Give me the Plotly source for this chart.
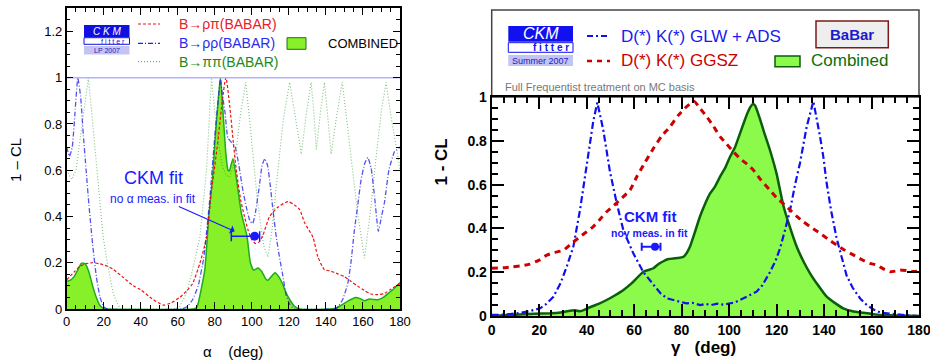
import plotly.graph_objects as go

# ---------------- DATA: left panel (alpha) ----------------
alpha_comb_x = [0, 2, 4, 6, 8, 10, 12, 14, 16, 18, 20, 22,
                68, 70, 71, 73, 74.6, 76.9, 78.7, 80.3, 81.7, 83, 84.1, 85.9, 87.1, 87.8, 89.8, 92.2, 94.3, 97.4, 99.2,
                101, 103.3, 105.5, 107.5, 108.7, 110.5, 112.5, 114.5, 116.5, 118.5, 120.5, 123, 126,
                142, 145, 148, 152, 156, 158.5, 160.8, 163.5, 166, 168, 171, 174, 177, 180]
alpha_comb_y = [0.12, 0.125, 0.14, 0.17, 0.198, 0.195, 0.16, 0.1, 0.05, 0.015, 0.002, 0,
                0, 0.005, 0.025, 0.1, 0.17, 0.416, 0.56, 0.75, 0.89, 1.0, 0.89, 0.677, 0.6, 0.597, 0.65, 0.532, 0.416, 0.314, 0.2,
                0.168, 0.177, 0.16, 0.13, 0.124, 0.14, 0.157, 0.14, 0.11, 0.07, 0.04, 0.012, 0,
                0, 0.002, 0.015, 0.035, 0.05, 0.045, 0.036, 0.043, 0.041, 0.04, 0.05, 0.07, 0.09, 0.115]

alpha_rhopi_x = [0, 4, 7, 10, 14, 18, 22, 25, 30, 36, 40, 46, 52, 56, 61, 65, 68, 72, 75.5, 78, 80, 82, 84, 86, 88, 90,
                 91.6, 94, 96, 98, 100, 102, 104, 106, 109.6, 114, 119.5, 123, 125.8, 128.5, 133, 135.6, 139.2, 142,
                 146.4, 150, 153.6, 157, 160.8, 164.4, 168, 171.6, 175, 180]
alpha_rhopi_y = [0.126, 0.16, 0.184, 0.195, 0.2, 0.195, 0.185, 0.172, 0.14, 0.1, 0.083, 0.045, 0.017, 0.025, 0.05, 0.08,
                 0.11, 0.2, 0.31, 0.5, 0.62, 0.75, 0.9, 1.0, 0.88, 0.72,
                 0.6, 0.47, 0.4, 0.34, 0.3, 0.283, 0.29, 0.32, 0.4, 0.44, 0.464, 0.45, 0.43, 0.373, 0.31, 0.227, 0.17, 0.165,
                 0.152, 0.14, 0.119, 0.1, 0.08, 0.065, 0.062, 0.067, 0.085, 0.11]

alpha_rhorho_x = [0, 1.5, 3, 4.5, 6, 7.5, 9, 10.5, 12, 14, 16, 18, 20, 22,
                  62, 65, 68, 71, 74, 77, 80, 82, 83, 84, 85.5, 87, 89, 91, 93, 95, 97, 99, 100.5, 102, 104, 105.5, 107,
                  108.5, 110, 111.5, 113.2, 115, 116.8, 118.5, 120.5, 123,
                  143, 146, 149, 151.8, 153.5, 155.4, 157.2, 159, 161, 162.6, 164.4, 166.2, 168.3, 170, 171.6, 174, 177, 180]
alpha_rhorho_y = [0.7, 0.66, 0.7, 0.85, 1.0, 0.92, 0.75, 0.6, 0.45, 0.28, 0.14, 0.05, 0.01, 0,
                  0, 0.01, 0.04, 0.1, 0.22, 0.45, 0.75, 0.92, 1.0, 0.93, 0.85, 0.74, 0.72, 0.7, 0.62, 0.52, 0.44, 0.38, 0.37,
                  0.42, 0.53, 0.62, 0.65, 0.62, 0.53, 0.42, 0.31, 0.22, 0.14, 0.06, 0.02, 0,
                  0, 0.005, 0.04, 0.11, 0.2, 0.343, 0.45, 0.56, 0.63, 0.655, 0.61, 0.49, 0.336, 0.4, 0.46, 0.6, 0.68, 0.7]

alpha_pipi_x = [0, 2.7, 5, 8, 10, 11.7, 13.5, 16.2, 18, 19.7, 21.5, 23.3, 25, 27, 29,
                58, 61, 64.7, 68, 71.9, 75.5, 78.2, 80, 82, 84, 86, 88, 90, 92, 94, 96.7, 99, 101, 103, 105, 106.5,
                108.7, 111, 113, 115, 117, 120.4, 123.5, 126.7, 129.5, 132, 133.5, 134.8, 137, 139.2, 141, 142.8,
                145.5, 148.8, 151.5, 154, 157, 160.8, 164, 167, 170, 172.5, 175, 178.8, 180]
alpha_pipi_y = [0.6, 0.56, 0.6, 0.78, 0.92, 1.0, 0.85, 0.6, 0.45, 0.31, 0.22, 0.14, 0.07, 0.03, 0,
                0, 0.01, 0.068, 0.17, 0.31, 0.6, 1.0, 0.85, 0.72, 0.62, 0.58, 0.57, 0.62, 0.72, 0.85, 0.98, 0.8, 0.62,
                0.47, 0.35, 0.27, 0.225, 0.35, 0.52, 0.68, 0.82, 0.98, 0.82, 0.67, 0.85, 0.98, 0.85, 0.69, 0.85, 0.98,
                0.83, 0.67, 0.82, 0.98, 0.8, 0.62, 0.42, 0.22, 0.42, 0.65, 0.86, 0.98, 0.84, 0.66, 0.6]

alpha_fit = [101.5]
alpha_fit_cl = [0.315]
alpha_fit_err_plus = [2.7]
alpha_fit_err_minus = [12.6]

# ---------------- DATA: right panel (gamma) ----------------
gamma_glw_x = [0, 5, 10.5, 15, 20.4, 23, 26, 29, 31.6, 34.4, 37.2, 40, 42.8, 44.5, 47, 49.8, 52.7, 55.5, 59.7, 63.9,
               68.1, 71, 73.7, 76.5, 79.3, 82, 84.5, 87.8, 90, 92.5, 95, 97.6, 100, 102.5, 104.6, 107, 109, 111.6, 114,
               117.2, 119.5, 121.5, 123.5, 125.7, 127.8, 129.9, 132.7, 135.5, 138.3, 139.7, 141.1, 143, 145.3, 147.5,
               149.5, 152, 155.2, 158, 160.8, 164, 167.8, 172, 176, 180]
gamma_glw_y = [0.005, 0.006, 0.012, 0.02, 0.035, 0.055, 0.088, 0.15, 0.225, 0.317, 0.484, 0.68, 0.89, 0.975, 0.85, 0.66,
               0.514, 0.39, 0.285, 0.2, 0.142, 0.105, 0.081, 0.072, 0.065, 0.058, 0.06, 0.05, 0.055, 0.05, 0.056, 0.052,
               0.058, 0.062, 0.073, 0.085, 0.095, 0.111, 0.14, 0.2, 0.25, 0.31, 0.39, 0.484, 0.6, 0.7, 0.865, 0.98, 0.82,
               0.727, 0.606, 0.48, 0.355, 0.26, 0.185, 0.13, 0.08, 0.05, 0.03, 0.015, 0.01, 0.005, 0.002, 0]

gamma_ggsz_x = [0, 5, 9, 13, 16, 20, 23.2, 26.5, 30.2, 33.5, 37.2, 40, 42.8, 45.5, 48.4, 51, 54, 58.3, 61.1, 64.5, 68.1,
                71.5, 75.1, 78.5, 82.1, 85.3, 88, 90.6, 93.5, 96.2, 99, 101.8, 105, 108, 110.2, 113.5, 117.2, 120, 123.5,
                125.7, 128.5, 131.3, 134.8, 138.3, 141.8, 145.3, 148.8, 152.3, 155.8, 159.3, 162.2, 165, 167.8, 170,
                172, 175, 177.5, 180]
gamma_ggsz_y = [0.218, 0.22, 0.225, 0.23, 0.237, 0.255, 0.278, 0.29, 0.3, 0.33, 0.362, 0.385, 0.408, 0.44, 0.476, 0.5,
                0.53, 0.575, 0.636, 0.7, 0.765, 0.82, 0.864, 0.915, 0.956, 0.98, 0.945, 0.91, 0.865, 0.819, 0.785, 0.75,
                0.715, 0.69, 0.667, 0.62, 0.575, 0.54, 0.507, 0.484, 0.455, 0.43, 0.403, 0.378, 0.35, 0.324, 0.3, 0.279,
                0.258, 0.24, 0.233, 0.215, 0.202, 0.205, 0.21, 0.207, 0.203, 0.205]

gamma_comb_x = [0, 5, 10, 13.3, 18, 24.6, 29, 33, 35, 37.2, 39, 41.4, 45, 48.4, 52, 55.5, 59, 63.9, 66, 68.1, 70, 72.3,
                74.5, 76.5, 78.5, 80.7, 82, 83.5, 85.5, 87.7, 90, 92, 94, 96.2, 98.5, 100.4, 102.5, 104.6, 107.4, 109,
                110, 111, 113, 115, 117.2, 120, 122.8, 125.5, 128.5, 131.3, 134.1, 137.5, 141.1, 144.5, 148.1, 152,
                156.5, 160, 163.6, 168, 172, 176, 180]
gamma_comb_y = [0, 0.003, 0.006, 0.008, 0.01, 0.012, 0.016, 0.024, 0.026, 0.022, 0.028, 0.04, 0.055, 0.073, 0.095,
                0.119, 0.15, 0.202, 0.21, 0.218, 0.235, 0.25, 0.26, 0.263, 0.265, 0.27, 0.285, 0.316, 0.38, 0.453,
                0.515, 0.56, 0.59, 0.636, 0.68, 0.727, 0.77, 0.834, 0.918, 0.955, 0.968, 0.96, 0.9, 0.83, 0.758, 0.65,
                0.507, 0.41, 0.316, 0.25, 0.195, 0.14, 0.088, 0.06, 0.035, 0.022, 0.015, 0.01, 0.005, 0.003, 0.002,
                0.001, 0]

gamma_fit = [68.8]
gamma_fit_cl = [0.316]
gamma_fit_err_plus = [2.3]
gamma_fit_err_minus = [5.6]

alpha_ticks = [0, 20, 40, 60, 80, 100, 120, 140, 160, 180]
ref_level = 1.0

# ---------------- FIGURE ----------------
W, H = 930, 361
FONT = "Liberation Sans, Arial, Helvetica, sans-serif"
BLUE = "#1a1aff"


def px(x):
    return x / W


def py(y):
    return 1 - y / H


fig = go.Figure()

# left panel
fig.add_trace(go.Scatter(x=alpha_comb_x, y=alpha_comb_y, mode="lines", fill="tozeroy",
                         fillcolor="rgb(135,240,40)", line=dict(color="#1faa1f", width=1.5, shape="spline", smoothing=0.5),
                         xaxis="x", yaxis="y", showlegend=False))
fig.add_trace(go.Scatter(x=alpha_pipi_x, y=alpha_pipi_y, mode="lines",
                         line=dict(color="rgba(40,150,40,0.6)", width=1.1, dash="1px,2px"),
                         xaxis="x", yaxis="y", showlegend=False))
fig.add_trace(go.Scatter(x=alpha_rhopi_x, y=alpha_rhopi_y, mode="lines",
                         line=dict(color="#ee1111", width=1.2, dash="3px,2px", shape="spline", smoothing=0.6),
                         xaxis="x", yaxis="y", showlegend=False))
fig.add_trace(go.Scatter(x=alpha_rhorho_x, y=alpha_rhorho_y, mode="lines",
                         line=dict(color="rgba(40,40,235,0.8)", width=1.3, dash="5px,2px,1px,2px", shape="spline", smoothing=0.4),
                         xaxis="x", yaxis="y", showlegend=False))
fig.add_trace(go.Scatter(x=[0, 180], y=[ref_level, ref_level], mode="lines",
                         line=dict(color="#b4b4ff", width=1.5), xaxis="x", yaxis="y", showlegend=False))
fig.add_trace(go.Scatter(x=alpha_fit, y=alpha_fit_cl, mode="markers",
                         marker=dict(color=BLUE, size=9),
                         error_x=dict(type="data", symmetric=False, array=alpha_fit_err_plus,
                                      arrayminus=alpha_fit_err_minus, color=BLUE, thickness=1.5, width=5),
                         xaxis="x", yaxis="y", showlegend=False))

# right panel
fig.add_trace(go.Scatter(x=gamma_comb_x, y=gamma_comb_y, mode="lines", fill="tozeroy",
                         fillcolor="rgb(140,250,75)", line=dict(color="#0b5e0b", width=2.5, shape="spline", smoothing=0.4),
                         xaxis="x2", yaxis="y2", showlegend=False))
fig.add_trace(go.Scatter(x=gamma_glw_x, y=gamma_glw_y, mode="lines",
                         line=dict(color="#1010ee", width=2.2, dash="7px,3px,2px,3px"),
                         xaxis="x2", yaxis="y2", showlegend=False))
fig.add_trace(go.Scatter(x=gamma_ggsz_x, y=gamma_ggsz_y, mode="lines",
                         line=dict(color="#cc0000", width=3, dash="6px,5px", shape="spline", smoothing=0.4),
                         xaxis="x2", yaxis="y2", showlegend=False))
fig.add_trace(go.Scatter(x=gamma_fit, y=gamma_fit_cl, mode="markers",
                         marker=dict(color=BLUE, size=8),
                         error_x=dict(type="data", symmetric=False, array=gamma_fit_err_plus,
                                      arrayminus=gamma_fit_err_minus, color=BLUE, thickness=2, width=4),
                         xaxis="x2", yaxis="y2", showlegend=False))

common_ax = dict(showgrid=False, zeroline=False, showline=True, linecolor="black", mirror="allticks",
                 ticks="inside", tickcolor="black", automargin=False, ticklabeloverflow="allow")

fig.update_layout(
    width=W, height=H, margin=dict(l=0, r=0, t=0, b=0, pad=0), autosize=False,
    paper_bgcolor="white", plot_bgcolor="white",
    font=dict(family=FONT, color="black"),
    xaxis=dict(domain=[px(66.7), px(400)], range=[0, 180], tickvals=alpha_ticks, ticklen=7, tickwidth=1,
               linewidth=1.5, tickfont=dict(size=13), anchor="y",
               minor=dict(dtick=5, ticklen=4, ticks="inside", tickcolor="black"), **common_ax),
    yaxis=dict(domain=[py(309), py(8.3)], range=[0, 1.3], dtick=0.2, ticklen=7, tickwidth=1, linewidth=1.5,
               tickfont=dict(size=13), anchor="x",
               minor=dict(dtick=0.05, ticklen=4, ticks="inside", tickcolor="black"), **common_ax),
    xaxis2=dict(domain=[px(491.7), px(919)], range=[0, 180], tickvals=alpha_ticks, ticklen=12, tickwidth=1.5,
                linewidth=2, tickfont=dict(size=14, weight="bold"), anchor="y2",
                minor=dict(dtick=5, ticklen=6, ticks="inside", tickcolor="black"), **common_ax),
    yaxis2=dict(domain=[py(316), py(97)], range=[0, 1], dtick=0.2, ticklen=12, tickwidth=1.5, linewidth=2,
                tickfont=dict(size=14, weight="bold"), anchor="x2",
                minor=dict(dtick=0.05, ticklen=6, ticks="inside", tickcolor="black"), **common_ax),
)

shapes = []
ann = []

# ---- left legend ----
leg_rows = [(24, "#ee1111", "3px,2px", "B\u2192\u03c1\u03c0(BABAR)", "#e8202a"),
            (43.3, "#2020ee", "5px,2px,1px,2px", "B\u2192\u03c1\u03c1(BABAR)", "#2a2aee"),
            (61.7, "rgba(40,150,40,0.7)", "1px,2px", "B\u2192\u03c0\u03c0(BABAR)", "#1a8a1a")]
for yy, lc, dash, txt, tc in leg_rows:
    shapes.append(dict(type="line", xref="paper", yref="paper", x0=px(138), x1=px(160), y0=py(yy), y1=py(yy),
                       line=dict(color=lc, width=1.2, dash=dash)))
    ann.append(dict(xref="paper", yref="paper", x=px(177), y=py(yy), text=txt, showarrow=False,
                    xanchor="left", yanchor="middle", font=dict(size=14, color=tc)))
shapes.append(dict(type="rect", xref="paper", yref="paper", x0=px(287), x1=px(306), y0=py(49.3), y1=py(37.7),
                   fillcolor="rgb(135,240,40)", line=dict(color="#1f6f1f", width=1)))
ann.append(dict(xref="paper", yref="paper", x=px(326), y=py(43.3), text="COMBINED", showarrow=False,
                xanchor="left", yanchor="middle", font=dict(size=13, color="black")))

# left CKMfitter logo
shapes.append(dict(type="rect", xref="paper", yref="paper", x0=px(84), x1=px(129.5), y0=py(37.3), y1=py(25),
                   fillcolor="#1010e0", line=dict(width=0)))
shapes.append(dict(type="rect", xref="paper", yref="paper", x0=px(84), x1=px(129.5), y0=py(44.3), y1=py(37.7),
                   fillcolor="white", line=dict(color="#1010e0", width=1)))
shapes.append(dict(type="rect", xref="paper", yref="paper", x0=px(84), x1=px(129.5), y0=py(54.5), y1=py(46),
                   fillcolor="#c4c4f4", line=dict(width=0)))
ann.append(dict(xref="paper", yref="paper", x=px(106.7), y=py(31.2), text="<i>C K M</i>", showarrow=False,
                font=dict(size=10, color="white"), xanchor="center", yanchor="middle"))
ann.append(dict(xref="paper", yref="paper", x=px(127), y=py(41), text="f i t t e r", showarrow=False,
                font=dict(size=7, color="#1010e0"), xanchor="right", yanchor="middle"))
ann.append(dict(xref="paper", yref="paper", x=px(106.7), y=py(50.3), text="LP 2007", showarrow=False,
                font=dict(size=7, color="#2020c0"), xanchor="center", yanchor="middle"))

# left texts
ann.append(dict(xref="x", yref="y", x=46.7, y=0.568, text="CKM fit", showarrow=False,
                font=dict(size=18, color=BLUE), xanchor="center", yanchor="middle"))
ann.append(dict(xref="x", yref="y", x=46.7, y=0.474, text="no \u03b1 meas. in fit", showarrow=False,
                font=dict(size=12, color=BLUE), xanchor="center", yanchor="middle"))
ann.append(dict(xref="x", yref="y", axref="x", ayref="y", x=90.7, y=0.336, ax=59.5, ay=0.447,
                text="\u00a0", showarrow=True, arrowhead=1, arrowsize=1.2, arrowwidth=1.2,
                arrowcolor=BLUE, standoff=0, startstandoff=0, font=dict(size=2)))

# left axis titles
ann.append(dict(xref="paper", yref="paper", x=px(233), y=py(351), text="\u03b1    (deg)", showarrow=False,
                font=dict(size=15, color="black"), xanchor="center", yanchor="middle"))
ann.append(dict(xref="paper", yref="paper", x=px(15), y=py(160), text="1 \u2013 CL", showarrow=False,
                textangle=-90, font=dict(size=15, color="black"), xanchor="center", yanchor="middle"))

# ---- right legend box ----
shapes.append(dict(type="rect", xref="paper", yref="paper", x0=px(491.7), x1=px(919), y0=py(97), y1=py(10),
                   fillcolor="white", line=dict(color="#444444", width=1.5), layer="below"))
# logo
shapes.append(dict(type="rect", xref="paper", yref="paper", x0=px(508.3), x1=px(573), y0=py(41.7), y1=py(26),
                   fillcolor="#1010f0", line=dict(width=0)))
shapes.append(dict(type="rect", xref="paper", yref="paper", x0=px(508.3), x1=px(573), y0=py(52.3), y1=py(42.7),
                   fillcolor="white", line=dict(color="#1010f0", width=1)))
shapes.append(dict(type="rect", xref="paper", yref="paper", x0=px(508.3), x1=px(573), y0=py(66), y1=py(55),
                   fillcolor="#c4c4f4", line=dict(width=0)))
ann.append(dict(xref="paper", yref="paper", x=px(540.6), y=py(34), text="<i>CKM</i>", showarrow=False,
                font=dict(size=16, color="white"), xanchor="center", yanchor="middle"))
ann.append(dict(xref="paper", yref="paper", x=px(571), y=py(47.5), text="<b>f i t t e r</b>", showarrow=False,
                font=dict(size=10, color="#1010f0"), xanchor="right", yanchor="middle"))
ann.append(dict(xref="paper", yref="paper", x=px(540.6), y=py(60.5), text="Summer 2007", showarrow=False,
                font=dict(size=9, color="#2020c0"), xanchor="center", yanchor="middle"))
# legend samples
shapes.append(dict(type="line", xref="paper", yref="paper", x0=px(587), x1=px(610), y0=py(36), y1=py(36),
                   line=dict(color="#1010ee", width=2, dash="6px,3px,2px,3px")))
shapes.append(dict(type="line", xref="paper", yref="paper", x0=px(587), x1=px(610), y0=py(61), y1=py(61),
                   line=dict(color="#cc0000", width=2.5, dash="5px,5px")))
ann.append(dict(xref="paper", yref="paper", x=px(619), y=py(36), text="D(*) K(*) GLW + ADS", showarrow=False,
                font=dict(size=17, color="#1a1aee"), xanchor="left", yanchor="middle"))
ann.append(dict(xref="paper", yref="paper", x=px(619), y=py(61), text="D(*) K(*) GGSZ", showarrow=False,
                font=dict(size=17, color="#cc0000"), xanchor="left", yanchor="middle"))
shapes.append(dict(type="rect", xref="paper", yref="paper", x0=px(816), x1=px(888.3), y0=py(47.7), y1=py(21),
                   fillcolor="#eeeeee", line=dict(color="#7a1a1a", width=1.5)))
ann.append(dict(xref="paper", yref="paper", x=px(852), y=py(34.5), text="<b>BaBar</b>", showarrow=False,
                font=dict(size=15, color="#1a1acc"), xanchor="center", yanchor="middle"))
shapes.append(dict(type="rect", xref="paper", yref="paper", x0=px(775), x1=px(800), y0=py(66.7), y1=py(56),
                   fillcolor="rgb(140,250,75)", line=dict(color="#0b5e0b", width=1.5)))
ann.append(dict(xref="paper", yref="paper", x=px(809), y=py(61), text="Combined", showarrow=False,
                font=dict(size=17, color="#0b6e0b"), xanchor="left", yanchor="middle"))
ann.append(dict(xref="paper", yref="paper", x=px(503), y=py(87.3), text="Full Frequentist treatment on MC basis",
                showarrow=False, font=dict(size=11, color="#777777"), xanchor="left", yanchor="middle"))

# right texts
ann.append(dict(xref="x2", yref="y2", x=66.7, y=0.453, text="<b>CKM fit</b>", showarrow=False,
                font=dict(size=15, color=BLUE), xanchor="center", yanchor="middle"))
ann.append(dict(xref="x2", yref="y2", x=66.3, y=0.38, text="<b>no\u03b3 meas. in fit</b>", showarrow=False,
                font=dict(size=10.5, color=BLUE), xanchor="center", yanchor="middle"))

# right axis titles
ann.append(dict(xref="paper", yref="paper", x=px(703), y=py(347), text="<b>\u03b3   (deg)</b>", showarrow=False,
                font=dict(size=17, color="black"), xanchor="center", yanchor="middle"))
ann.append(dict(xref="paper", yref="paper", x=px(441), y=py(162.5), text="<b>1 - CL</b>", showarrow=False,
                textangle=-90, font=dict(size=17, color="black"), xanchor="center", yanchor="middle"))

fig.update_layout(shapes=shapes, annotations=ann)
fig.write_html("out.html", config={"displayModeBar": False, "staticPlot": False},
               post_script="document.body.style.margin='0px';document.body.style.padding='0px';"
                           "document.documentElement.style.overflow='hidden';")
